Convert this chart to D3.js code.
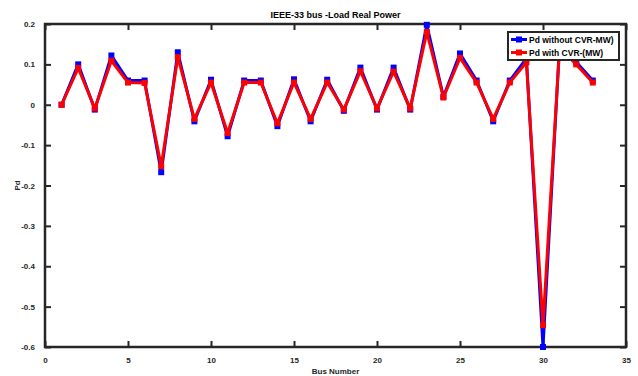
<!DOCTYPE html>
<html>
<head>
<meta charset="utf-8">
<script src="https://cdn.jsdelivr.net/npm/d3@7"></script>
<style>
  body { margin: 0; background: #fff; }
  svg { display: block; font-family: "Liberation Sans", Arial, sans-serif; }
  .tick text { font-size: 8px; font-weight: bold; fill: #262626; }
</style>
</head>
<body>
<svg id="chart"></svg>
<script>
// Bus numbers and load real power (MW) for each case
const buses = d3.range(1, 34);
const pdWithout = [0, 0.10, -0.012, 0.122, 0.06, 0.06, -0.167, 0.13, -0.041, 0.062,
  -0.078, 0.06, 0.06, -0.053, 0.063, -0.041, 0.062, -0.015, 0.092, -0.012,
  0.092, -0.012, 0.198, 0.02, 0.127, 0.06, -0.041, 0.06, 0.115, -0.6,
  0.15, 0.106, 0.06];
const pdWith = [0, 0.091, -0.009, 0.109, 0.055, 0.054, -0.152, 0.118, -0.035, 0.055,
  -0.07, 0.055, 0.055, -0.046, 0.055, -0.035, 0.055, -0.012, 0.083, -0.009,
  0.082, -0.009, 0.18, 0.018, 0.116, 0.055, -0.035, 0.055, 0.105, -0.546,
  0.142, 0.1, 0.055];
const xTicks = [0, 5, 10, 15, 20, 25, 30, 35];
const yTicks = [-0.6, -0.5, -0.4, -0.3, -0.2, -0.1, 0, 0.1, 0.2];
const seriesNames = ["Pd without CVR-MW)", "Pd with CVR-(MW)"];

const config = {
  width: 638,
  height: 376,
  margin: {top: 24, right: 12, bottom: 29, left: 45}
};

const svg = d3.select("#chart")
    .attr("width", config.width)
    .attr("height", config.height);

const innerW = config.width - config.margin.left - config.margin.right;
const innerH = config.height - config.margin.top - config.margin.bottom;

const g = svg.append("g")
    .attr("transform", `translate(${config.margin.left},${config.margin.top})`);

const x = d3.scaleLinear().domain([0, 35]).range([0, innerW]);
const y = d3.scaleLinear().domain([-0.6, 0.2]).range([innerH, 0]);

const axisColor = "#262626";

// Axes with inward ticks on all four sides
const styleAxis = sel => {
  sel.select(".domain").remove();
  sel.selectAll(".tick line").attr("stroke", axisColor).attr("stroke-width", 2);
};

g.append("g")
    .attr("transform", `translate(0,${innerH})`)
    .call(d3.axisBottom(x).tickValues(xTicks).tickSizeInner(-6).tickSizeOuter(0).tickPadding(10))
    .call(styleAxis);

g.append("g")
    .call(d3.axisTop(x).tickValues(xTicks).tickSizeInner(-6).tickSizeOuter(0).tickFormat(""))
    .call(styleAxis);

// plain hyphen for negatives, like the MATLAB labels
g.append("g")
    .call(d3.axisLeft(y).tickValues(yTicks).tickSizeInner(-6).tickSizeOuter(0).tickPadding(10)
      .tickFormat(d => d === 0 ? "0" : d3.format(".1f")(d).replace("−", "-")))
    .call(styleAxis);

g.append("g")
    .attr("transform", `translate(${innerW},0)`)
    .call(d3.axisRight(y).tickValues(yTicks).tickSizeInner(-6).tickSizeOuter(0).tickFormat(""))
    .call(styleAxis);

// Frame
g.append("rect")
    .attr("width", innerW)
    .attr("height", innerH)
    .attr("fill", "none")
    .attr("stroke", axisColor)
    .attr("stroke-width", 2.5);

// Series
const series = [
  {name: seriesNames[0], values: pdWithout, color: "#0000ff"},
  {name: seriesNames[1], values: pdWith, color: "#ff0000"}
];

const line = d3.line()
    .x((d, i) => x(buses[i]))
    .y(d => y(d));

series.forEach(s => {
  const sg = g.append("g");
  sg.append("path")
      .datum(s.values)
      .attr("fill", "none")
      .attr("stroke", s.color)
      .attr("stroke-width", 3)
      .attr("stroke-linejoin", "round")
      .attr("d", line);
  sg.selectAll("rect")
    .data(s.values)
    .join("rect")
      .attr("x", (d, i) => x(buses[i]) - 3)
      .attr("y", d => y(d) - 3)
      .attr("width", 6)
      .attr("height", 6)
      .attr("fill", s.color);
});

// Legend
const legend = g.append("g")
    .attr("transform", `translate(${innerW - 118},${8})`);

legend.append("rect")
    .attr("width", 111)
    .attr("height", 28)
    .attr("fill", "#fff")
    .attr("stroke", axisColor)
    .attr("stroke-width", 2);

series.forEach((s, i) => {
  const ly = 7.5 + i * 13;
  legend.append("line")
      .attr("x1", 3).attr("x2", 19)
      .attr("y1", ly).attr("y2", ly)
      .attr("stroke", s.color)
      .attr("stroke-width", 3);
  legend.append("rect")
      .attr("x", 8).attr("y", ly - 3)
      .attr("width", 6).attr("height", 6)
      .attr("fill", s.color);
  legend.append("text")
      .attr("x", 21)
      .attr("y", ly + 3)
      .attr("font-size", "8.5px")
      .attr("font-weight", "bold")
      .attr("fill", "#000")
      .text(s.name);
});

// Title and axis labels
svg.append("text")
    .attr("x", config.margin.left + innerW / 2)
    .attr("y", 18)
    .attr("text-anchor", "middle")
    .attr("font-size", "9px")
    .attr("font-weight", "bold")
    .attr("fill", "#000")
    .text("IEEE-33 bus -Load Real Power");

svg.append("text")
    .attr("x", config.margin.left + innerW / 2)
    .attr("y", 374)
    .attr("text-anchor", "middle")
    .attr("font-size", "8px")
    .attr("font-weight", "bold")
    .attr("fill", "#262626")
    .text("Bus Number");

svg.append("text")
    .attr("transform", `translate(20,${config.margin.top + innerH / 2}) rotate(-90)`)
    .attr("text-anchor", "middle")
    .attr("font-size", "8px")
    .attr("font-weight", "bold")
    .attr("fill", "#262626")
    .text("Pd");
</script>
</body>
</html>
